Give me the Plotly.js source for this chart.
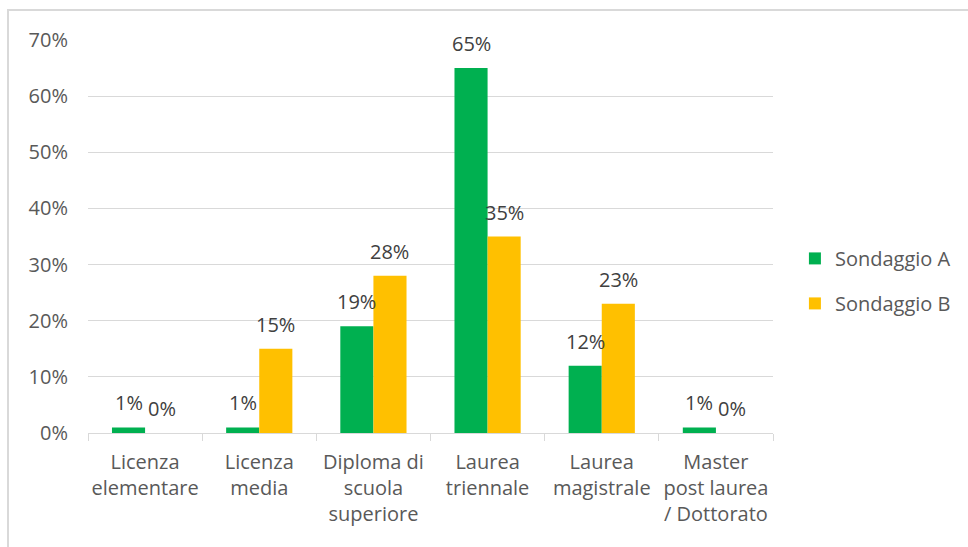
<!DOCTYPE html>
<html>
<head>
<meta charset="utf-8">
<script src="https://cdn.plot.ly/plotly-3.0.1.min.js"></script>
<style>
  html, body { margin: 0; padding: 0; background: #fff; }
  #wrap { position: relative; width: 968px; height: 547px; }
  #chart { position: absolute; left: 0; top: 0; width: 968px; height: 547px; }
  #frame { position: absolute; left: 7px; top: 9px; width: 961px; height: 538px;
           border-left: 2px solid #d9d9d9; border-top: 2px solid #d9d9d9;
           box-sizing: border-box; pointer-events: none; }
</style>
</head>
<body>
<div id="wrap">
  <div id="chart"></div>
  <div id="frame"></div>
</div>
<script>
const categories = [
  "Licenza<br>elementare",
  "Licenza<br>media",
  "Diploma di<br>scuola<br>superiore",
  "Laurea<br>triennale",
  "Laurea<br>magistrale",
  "Master<br>post laurea<br>/ Dottorato"
];
const seriesNames = ["Sondaggio A", "Sondaggio B"];
const sondaggioA = [0.01, 0.01, 0.19, 0.65, 0.12, 0.01];
const sondaggioB = [0.00, 0.15, 0.28, 0.35, 0.23, 0.00];
const yTickValues = [0, 0.1, 0.2, 0.3, 0.4, 0.5, 0.6, 0.7];

const GREEN = "#00B050";
const YELLOW = "#FFC000";
const TXT = "#595959";
const FONT = "Open Sans, sans-serif";
const FS = 20;

const traces = [
  { type: "bar", name: seriesNames[0], x: categories, y: sondaggioA,
    marker: { color: GREEN }, legendgroup: "a", hoverinfo: "none" },
  { type: "bar", name: seriesNames[1], x: categories, y: sondaggioB,
    marker: { color: YELLOW }, legendgroup: "b", hoverinfo: "none" }
];

const BARSHIFT = 16.5;
const annotations = [];
[sondaggioA, sondaggioB].forEach((vals, s) => {
  vals.forEach((v, i) => {
    annotations.push({
      x: categories[i], y: v, xref: "x", yref: "y",
      xshift: s === 0 ? -BARSHIFT : BARSHIFT, yshift: 9,
      yanchor: "bottom", xanchor: "center", showarrow: false,
      text: Math.round(v * 100) + "%",
      font: { family: FONT, size: FS, color: "#404040" }
    });
  });
});

const layout = {
  width: 968, height: 547,
  margin: { l: 88, r: 195, t: 40, b: 114 },
  paper_bgcolor: "#ffffff", plot_bgcolor: "#ffffff",
  font: { family: FONT, size: FS, color: TXT },
  barmode: "group", bargap: 0.42, bargroupgap: 0,
  showlegend: true,
  legend: { x: 1.032, y: 0.387, xanchor: "left", yanchor: "middle",
            traceorder: "grouped", tracegroupgap: 16,
            font: { family: FONT, size: FS, color: TXT } },
  xaxis: {
    type: "category", tickson: "boundaries", ticks: "outside", ticklen: 7,
    tickcolor: "#d9d9d9", showline: true, linecolor: "#d9d9d9", linewidth: 1,
    showgrid: false, tickangle: 0, ticklabelstandoff: 11,
    tickfont: { family: FONT, size: FS, color: TXT }
  },
  yaxis: {
    range: [0, 0.7], tickvals: yTickValues, tickformat: ".0%",
    showgrid: true, gridcolor: "#d9d9d9", gridwidth: 1,
    showline: false, zeroline: false, ticks: "", ticklabelstandoff: 19,
    tickfont: { family: FONT, size: FS, color: TXT }
  },
  annotations: annotations
};

Plotly.newPlot("chart", traces, layout, { staticPlot: true, displayModeBar: false });
</script>
</body>
</html>
